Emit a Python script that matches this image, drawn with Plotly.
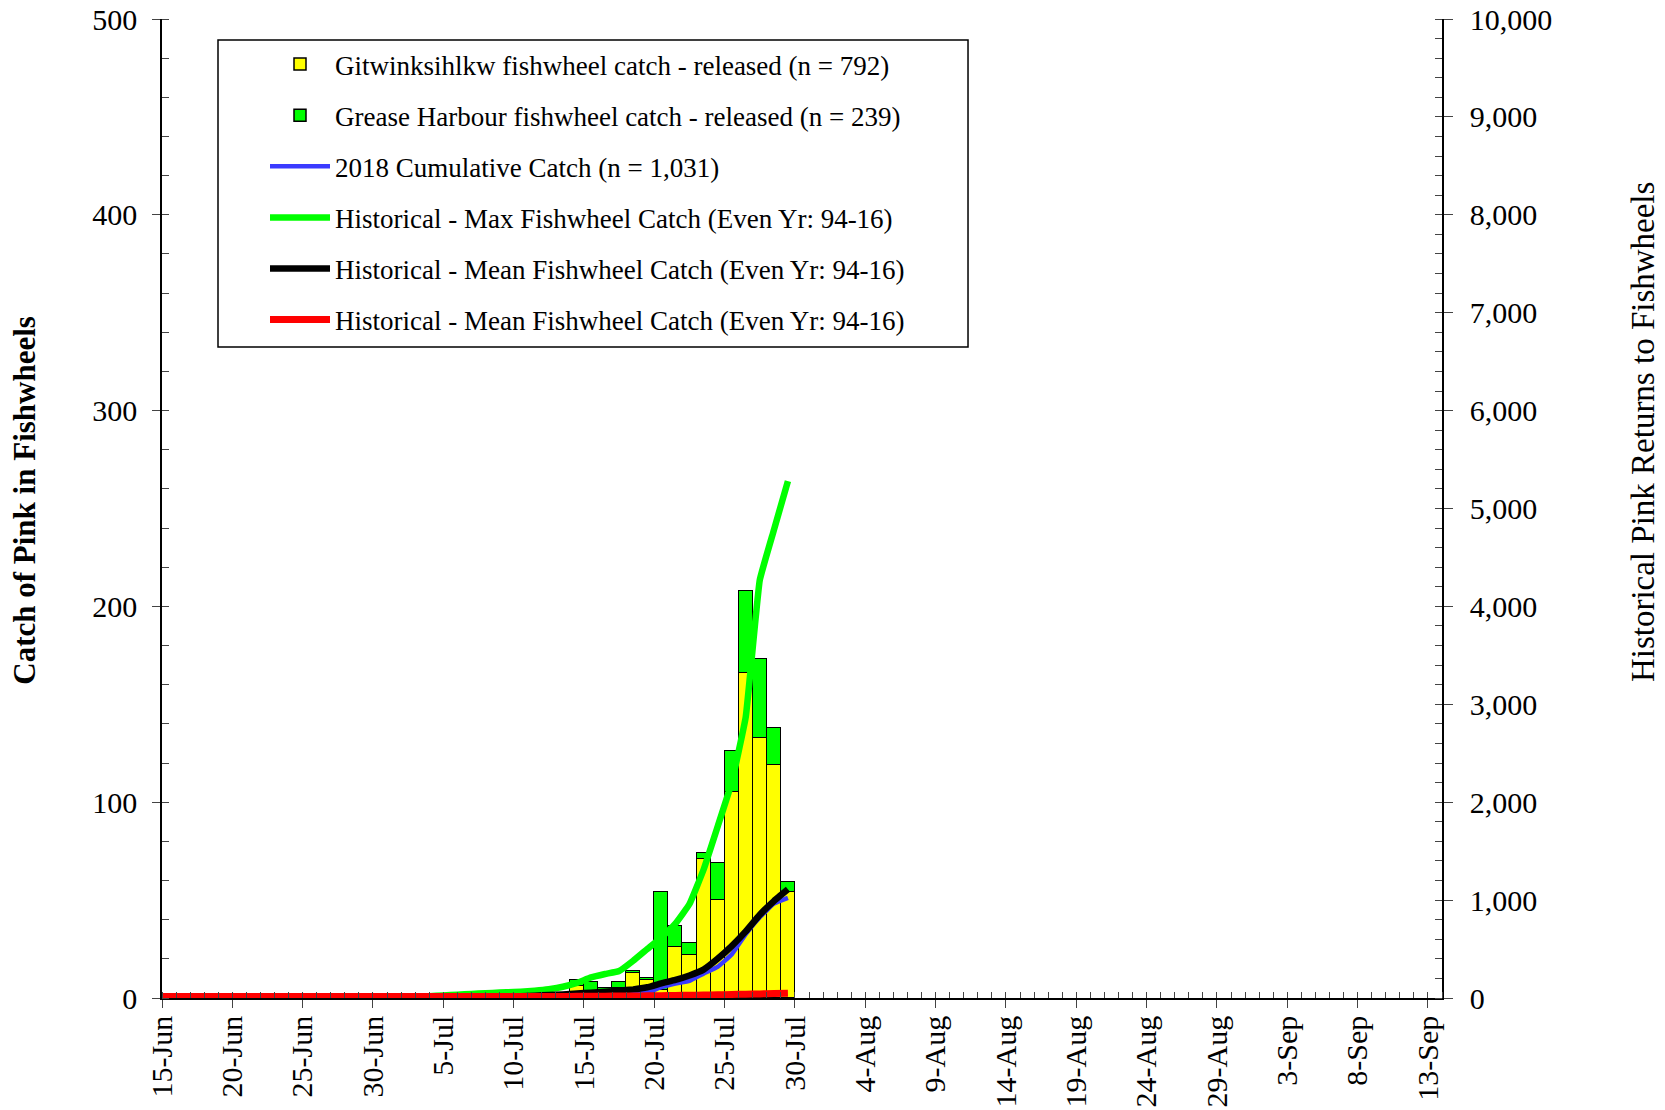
import pandas as pd
import plotly.graph_objects as go

FONT = "Liberation Serif"

# daily fishwheel catch, 2018 (left axis)
bar_days = ["2018-07-09", "2018-07-14", "2018-07-15", "2018-07-16", "2018-07-17", "2018-07-18",
            "2018-07-19", "2018-07-20", "2018-07-21", "2018-07-22", "2018-07-23", "2018-07-24",
            "2018-07-25", "2018-07-26", "2018-07-27", "2018-07-28", "2018-07-29"]
gitwinksihlkw = [2, 6, 2, 2, 5, 13, 9, 4, 26, 22, 71, 50, 105, 166, 133, 119, 54]
grease_harbour = [0, 3, 6, 3, 3, 1, 1, 50, 11, 6, 3, 19, 21, 42, 40, 19, 5]

# cumulative lines (right axis), one value per day 14-Jun .. 29-Jul
line_first_day = "2018-06-14"
line_last_day = "2018-07-29"
cumulative_2018 = [0, 0, 0, 0, 0, 0, 0, 0, 0, 0, 0, 0, 0, 0, 0, 0, 0,
                   0, 0, 0, 0, 0, 0, 0, 0, 2,
                   2, 2, 2, 2, 11, 19, 24, 32, 46, 56,
                   110, 147, 175, 249, 318, 444, 652, 825, 963, 1022]
hist_max = [0, 0, 0, 0, 0, 0, 0, 0, 0, 0, 0, 2, 2, 3, 3, 4, 5,
            6, 8, 15, 22, 30, 38, 45, 52, 58,
            65, 75, 90, 115, 155, 210, 245, 275, 380, 500,
            620, 760, 960, 1310, 1750, 2200, 2870, 4270, 4780, 5280]
hist_mean = [0, 0, 0, 0, 0, 0, 0, 0, 0, 0, 0, 0, 0, 0, 0, 0, 0,
             1, 2, 3, 4, 5, 7, 9, 12, 15,
             19, 24, 30, 37, 45, 55, 65, 75, 88, 110,
             150, 185, 230, 290, 400, 530, 680, 850, 990, 1110]
hist_mean_red = [15, 15, 15, 15, 15, 15, 15, 15, 15, 15, 15, 15, 15, 15, 15, 15, 15,
                 15, 15, 15, 15, 15, 15, 15, 15, 15,
                 15, 15, 15, 16, 17, 18, 19, 20, 21, 22,
                 24, 26, 28, 30, 33, 36, 39, 42, 45, 48]

DAY_MS = 86400000
half_day = pd.Timedelta(hours=12)
bar_x = pd.to_datetime(bar_days) + half_day
line_x = pd.date_range(line_first_day, line_last_day, freq="D") + half_day

fig = go.Figure()

# stacked bars
fig.add_trace(go.Bar(x=bar_x, y=gitwinksihlkw, width=DAY_MS, name="Gitwinksihlkw fishwheel catch - released (n = 792)",
                     legendgroup="a", marker=dict(color="#FFFF00", line=dict(color="black", width=1.5))))
fig.add_trace(go.Bar(x=bar_x, y=grease_harbour, width=DAY_MS, name="Grease Harbour fishwheel catch - released (n = 239)",
                     legendgroup="b", marker=dict(color="#00FF00", line=dict(color="black", width=1.5))))

# lines on the secondary axis
lines = [
    (cumulative_2018, "2018 Cumulative Catch (n = 1,031)", "#3B3BFF", 4.5, "c"),
    (hist_max, "Historical - Max Fishwheel Catch (Even Yr: 94-16)", "#00FF00", 6.5, "d"),
    (hist_mean, "Historical - Mean Fishwheel Catch (Even Yr: 94-16)", "#000000", 6.5, "e"),
    (hist_mean_red, "Historical - Mean Fishwheel Catch (Even Yr: 94-16)", "#FF0000", 7, "f"),
]
for vals, name, color, w, grp in lines:
    fig.add_trace(go.Scatter(x=line_x, y=vals, name=name, mode="lines", yaxis="y2", legendgroup=grp,
                             line=dict(color=color, width=w, shape="spline", smoothing=0.3)))

tickfont = dict(family=FONT, size=30, color="black")
axis_common = dict(automargin=False, ticklabeloverflow="allow", tickcolor="#444",
                   showline=True, linecolor="black", linewidth=1.5, showgrid=False, zeroline=False,
                   tickfont=tickfont)

# page body has an 8px margin, so the figure is a little smaller than the window
fig.update_layout(
    width=1657, height=1102,
    margin=dict(l=154, r=223, t=11, b=112),
    paper_bgcolor="white", plot_bgcolor="white",
    barmode="stack", bargap=0,
    font=dict(family=FONT, color="black"),
    xaxis=dict(
        type="date", range=["2018-06-15", "2018-09-14"],
        tick0="2018-06-15", dtick=5 * DAY_MS, tickformat="%-d-%b", tickangle=-90,
        ticks="outside", ticklen=8, ticklabelstandoff=-4,
        minor=dict(dtick=DAY_MS, tick0="2018-06-15", ticks="inside", ticklen=6, tickcolor="#444"),
        **axis_common,
    ),
    yaxis=dict(
        range=[0, 500], dtick=100, ticks="outside", ticklen=8, ticklabelstandoff=9,
        minor=dict(dtick=20, ticks="inside", ticklen=7, tickcolor="#444"),
        **axis_common,
    ),
    yaxis2=dict(
        overlaying="y", side="right", range=[0, 10000], dtick=1000, tickformat=",",
        ticks="outside", ticklen=9, ticklabelstandoff=11,
        minor=dict(dtick=200, ticks="inside", ticklen=7, tickcolor="#444"),
        **axis_common,
    ),
    legend=dict(
        x=0.04375, y=0.9785, xanchor="left", yanchor="top",
        bgcolor="rgba(0,0,0,0)", borderwidth=0,
        font=dict(family=FONT, size=27, color="black"),
        traceorder="grouped", tracegroupgap=13, itemwidth=60, indentation=47,
    ),
    shapes=[dict(type="rect", xref="paper", yref="paper", x0=0.04375, x1=0.6297, y0=0.665, y1=0.9785,
                 line=dict(color="black", width=1.5), fillcolor="white", layer="below")],
    annotations=[
        dict(text="<b>Catch of Pink in Fishwheels</b>", xref="paper", yref="paper", x=-0.107, y=0.508,
             xanchor="center", yanchor="middle", textangle=-90, showarrow=False,
             font=dict(family=FONT, size=31, color="black")),
        dict(text="Historical Pink Returns to Fishwheels", xref="paper", yref="paper", x=1.157, y=0.578,
             xanchor="center", yanchor="middle", textangle=-90, showarrow=False,
             font=dict(family=FONT, size=33, color="black")),
    ],
)

fig.write_html("out.html")
